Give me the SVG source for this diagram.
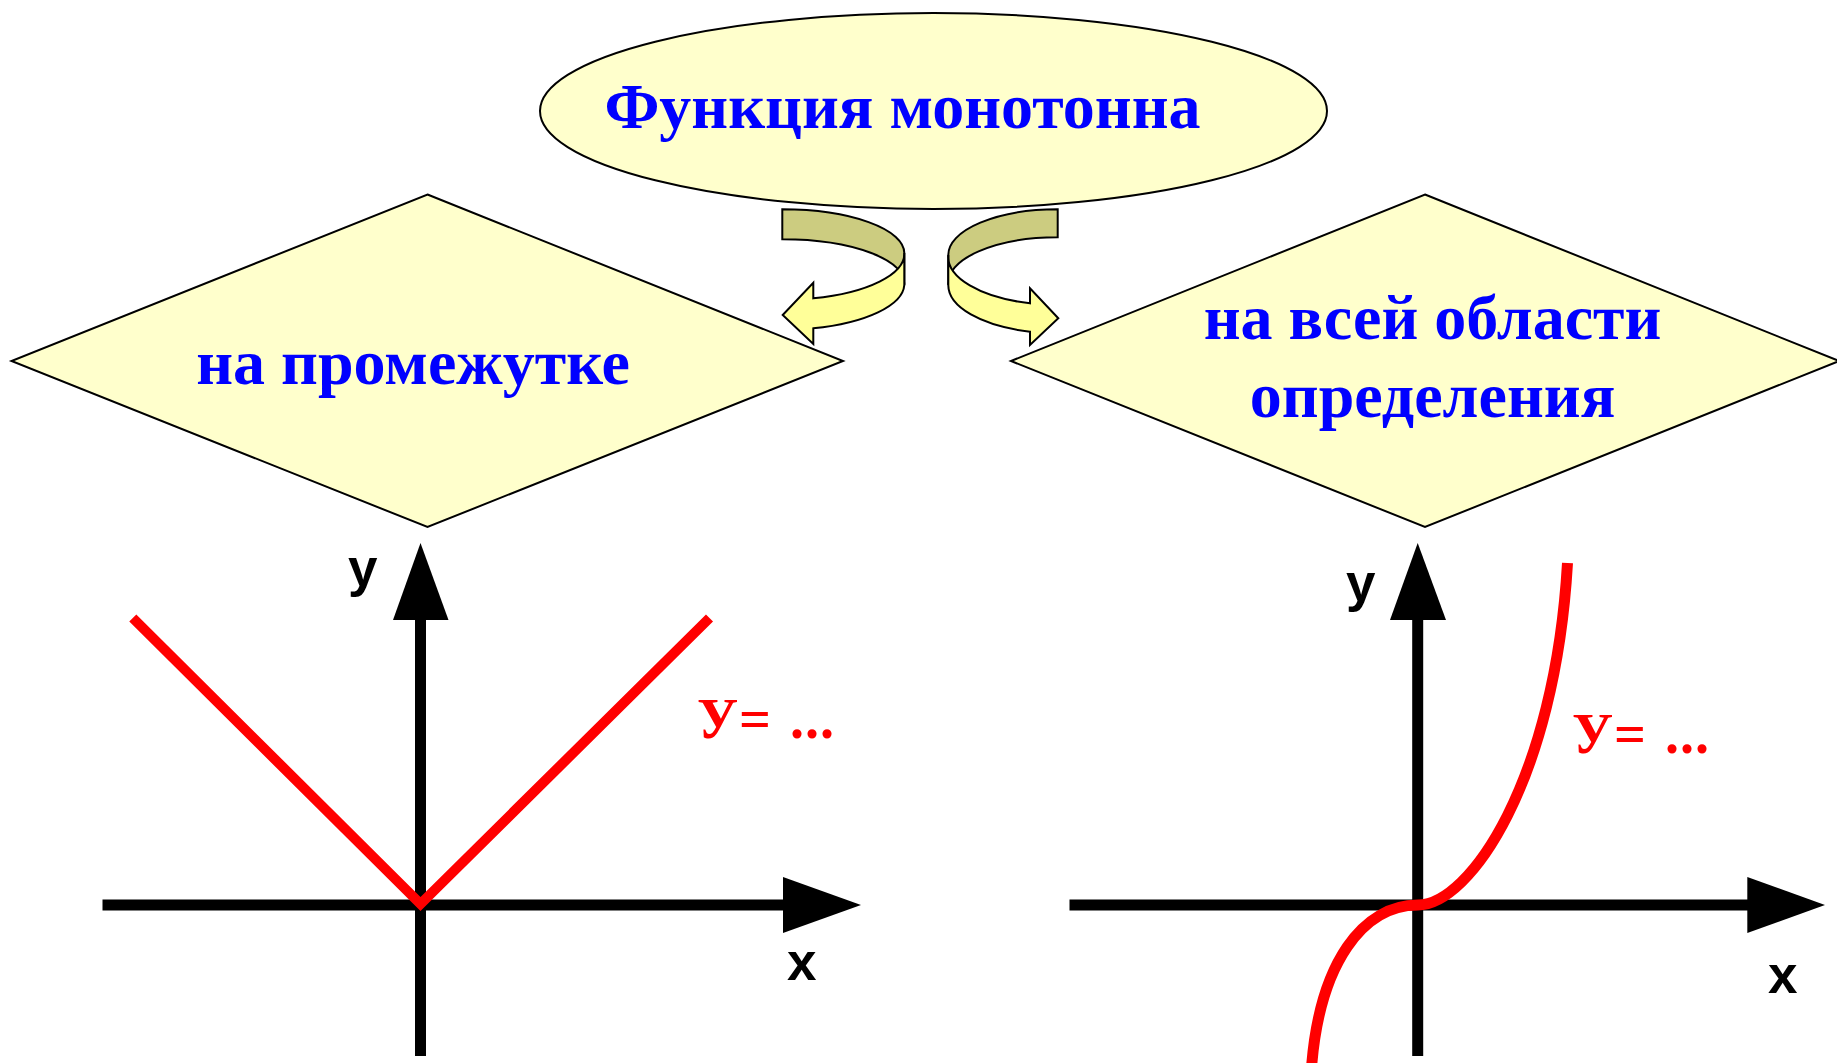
<svg xmlns="http://www.w3.org/2000/svg" width="1837" height="1063" viewBox="0 0 1837 1063">
<style>
.shape{fill:#FFFFCC;stroke:#000;stroke-width:2}
.blue{font-family:"Liberation Serif","Times New Roman",serif;font-weight:bold;font-size:64px;fill:#0000FF}
.back{fill:#CCCC80;stroke:#000;stroke-width:2;stroke-linejoin:miter}
.front{fill:#FFFF99;stroke:#000;stroke-width:2;stroke-linejoin:miter}
.axis{stroke:#000;stroke-width:11;fill:none}
.head{fill:#000}
.curve{stroke:#FF0000;stroke-width:10;fill:none;stroke-linejoin:miter}
.lbl{font-family:"Liberation Sans",Arial,sans-serif;font-weight:bold;font-size:53px;fill:#000}
.red{font-family:"Liberation Serif","Times New Roman",serif;font-weight:bold;font-size:56px;fill:#FF0000;letter-spacing:1px;word-spacing:3px}
</style>
<rect width="1837" height="1063" fill="#fff"/>
<g id="node-interval">
<polygon class="shape" points="427.5,194.5 843,361 427.5,527 11.5,361"/>
<text class="blue" x="413" y="384" text-anchor="middle">на промежутке</text>
</g>
<g id="node-domain">
<polygon class="shape" points="1425,194.5 1839,361 1425,527 1011,361"/>
<text class="blue" x="1432.5" y="339" text-anchor="middle">на всей области</text>
<text class="blue" x="1432.5" y="416.5" text-anchor="middle">определения</text>
</g>
<g id="connectors">
<g id="arrow-left">
<path class="back" d="M782.3,209.3 A122,43.7 0 0 1 904.3,253 L904.3,285 A122,43.7 0 0 0 782.3,239.3 Z"/>
<path class="front" d="M904.3,253 A122,46 0 0 1 813.3,298.3 L813.3,282.7 L782.7,315 L813.3,344 L813.3,328.3 A122,46 0 0 0 904.3,285 Z"/>
</g>
<g id="arrow-right">
<path class="back" d="M1057.7,209.3 A109.4,45.7 0 0 0 948.3,255 L948.3,285 A109.4,45.7 0 0 1 1057.7,237.3 Z"/>
<path class="front" d="M948.3,255 A109.4,48 0 0 0 1030,303.3 L1030,288.3 L1058.3,318.3 L1030,345 L1030,331.7 A109.4,48 0 0 1 948.3,285 Z"/>
</g>
</g>
<g id="node-main">
<ellipse class="shape" cx="933.5" cy="111" rx="393.5" ry="98"/>
<text class="blue" x="902.5" y="128" text-anchor="middle">Функция монотонна</text>
</g>
<g id="graph-left">
<line class="axis" x1="102.5" y1="905" x2="790" y2="905"/>
<polygon class="head" points="783,877 861,905 783,933"/>
<line class="axis" x1="420.5" y1="1056" x2="420.5" y2="612"/>
<polygon class="head" points="393,620 420.5,543 448.5,620"/>
<polyline class="curve" points="132.8,618 420.5,904 709.5,618"/>
<text class="lbl" x="348" y="586">y</text>
<text class="lbl" x="787" y="980">x</text>
<text class="red" x="697" y="738">У= ...</text>
</g>
<g id="graph-right">
<line class="axis" x1="1069.5" y1="905" x2="1755" y2="905"/>
<polygon class="head" points="1747.3,877 1825,905 1747.3,933"/>
<line class="axis" x1="1417.7" y1="1056" x2="1417.7" y2="612"/>
<polygon class="head" points="1390,620 1417.7,543 1446,620"/>
<path class="curve" style="stroke-width:11" d="M1567.5,563 C1555,780 1470,905 1417.7,905 C1365,905 1318,960 1311,1075"/>
<text class="lbl" x="1346" y="601">y</text>
<text class="lbl" x="1768" y="992.5">x</text>
<text class="red" x="1572" y="753">У= ...</text>
</g>
</svg>
